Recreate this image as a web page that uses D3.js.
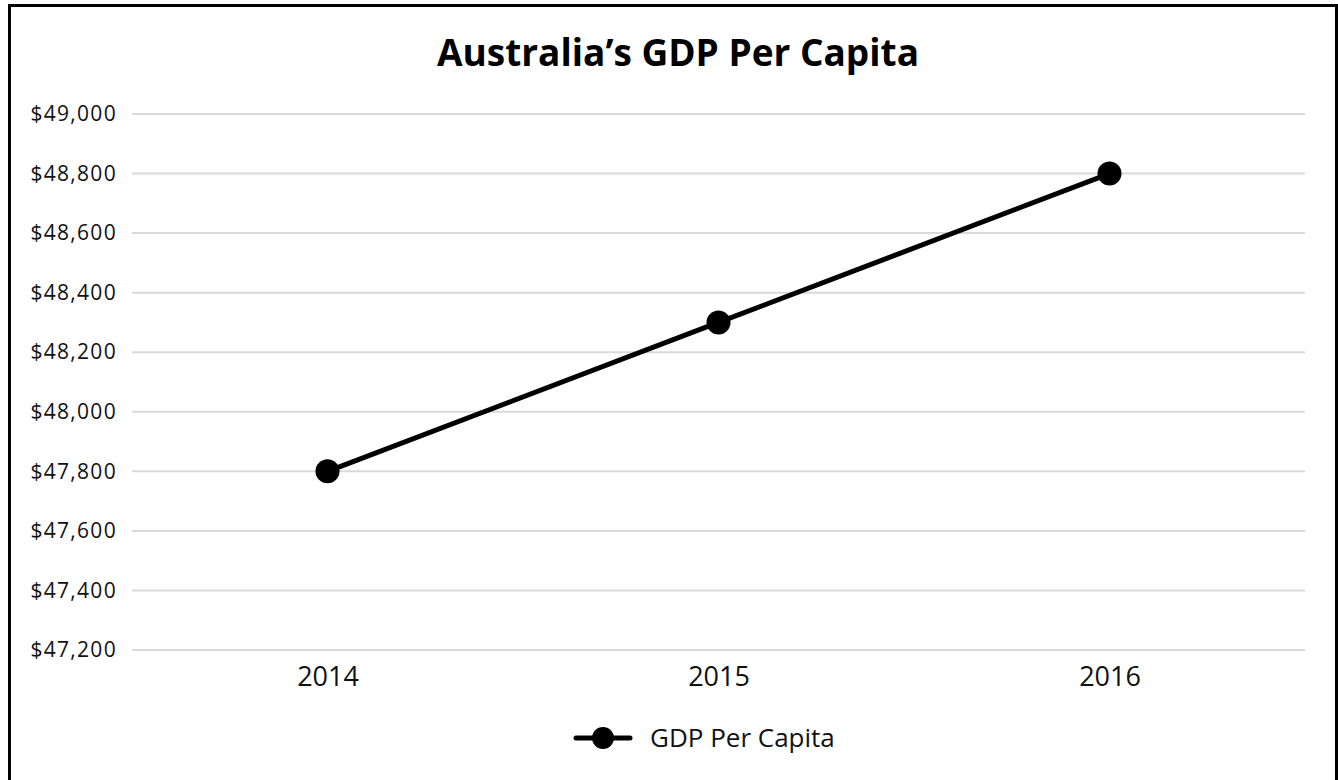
<!DOCTYPE html>
<html>
<head>
<meta charset="utf-8">
<script src="https://cdn.jsdelivr.net/npm/d3@7"></script>
<style>
  body { margin: 0; background: #fff; }
  svg { display: block; }
  svg text { font-family: "Open Sans", Lato, sans-serif; }
</style>
</head>
<body>
<div id="canvas"></div>
<script>
const years = ["2014", "2015", "2016"];
const gdp = [47800, 48300, 48800];
const yTicks = [47200, 47400, 47600, 47800, 48000, 48200, 48400, 48600, 48800, 49000];
const seriesName = "GDP Per Capita";
const title = "Australia\u2019s GDP Per Capita";

const width = 1338;
const height = 780;
const margin = { top: 114, left: 132, right: 33 };
const iwidth = width - margin.left - margin.right;
const iheight = 536;

const svg = d3.select("#canvas").append("svg")
  .attr("width", width)
  .attr("height", height);

// outer frame
svg.append("rect")
  .attr("x", 9.5).attr("y", 5.5)
  .attr("width", width - 11).attr("height", height)
  .attr("fill", "none").attr("stroke", "#000").attr("stroke-width", 3);

svg.append("text")
  .attr("x", 678).attr("y", 66)
  .attr("text-anchor", "middle")
  .style("font-size", "37px").style("font-weight", "bold")
  .text(title);

const g = svg.append("g")
  .attr("transform", `translate(${margin.left},${margin.top})`);

const x = d3.scalePoint().domain(years).range([0, iwidth]).padding(0.5);
const y = d3.scaleLinear().domain([47200, 49000]).range([iheight, 0]);

// gridlines
g.append("g")
  .selectAll("line")
  .data(yTicks)
  .join("line")
  .attr("x1", 0).attr("x2", iwidth)
  .attr("y1", (d) => y(d)).attr("y2", (d) => y(d))
  .attr("stroke", "#d9d9d9").attr("stroke-width", 2);

const fmt = d3.format("$,");
const yAxis = g.append("g")
  .call(d3.axisLeft(y).tickValues(yTicks).tickFormat(fmt).tickSize(0).tickPadding(15));
yAxis.select(".domain").remove();
yAxis.selectAll("text")
  .style("font-size", "21px").style("letter-spacing", "1.3px")
  .style("font-family", "'Open Sans', sans-serif")
  .attr("fill", "#111");

const xAxis = g.append("g")
  .attr("transform", `translate(0, ${y(47200)})`)
  .call(d3.axisBottom(x).tickSize(0).tickPadding(17));
xAxis.select(".domain").remove();
xAxis.selectAll("text")
  .style("font-size", "27px")
  .style("font-family", "'Open Sans', sans-serif")
  .attr("fill", "#111");

const line = d3.line()
  .x((d, i) => x(years[i]))
  .y((d) => y(d));

g.append("path")
  .datum(gdp)
  .attr("d", line)
  .attr("fill", "none")
  .attr("stroke", "#000")
  .attr("stroke-width", 5);

g.selectAll(".pt")
  .data(gdp)
  .join("circle")
  .attr("class", "pt")
  .attr("cx", (d, i) => x(years[i]))
  .attr("cy", (d) => y(d))
  .attr("r", 12)
  .attr("fill", "#000");

// legend
const lg = svg.append("g").attr("transform", "translate(576, 738)");
lg.append("line")
  .attr("x1", 0).attr("x2", 54).attr("y1", 0).attr("y2", 0)
  .attr("stroke", "#000").attr("stroke-width", 5).attr("stroke-linecap", "round");
lg.append("circle").attr("cx", 27).attr("cy", 0).attr("r", 11).attr("fill", "#000");
lg.append("text")
  .attr("x", 74).attr("y", 9)
  .style("font-size", "26px").attr("fill", "#111")
  .text(seriesName);
</script>
</body>
</html>
